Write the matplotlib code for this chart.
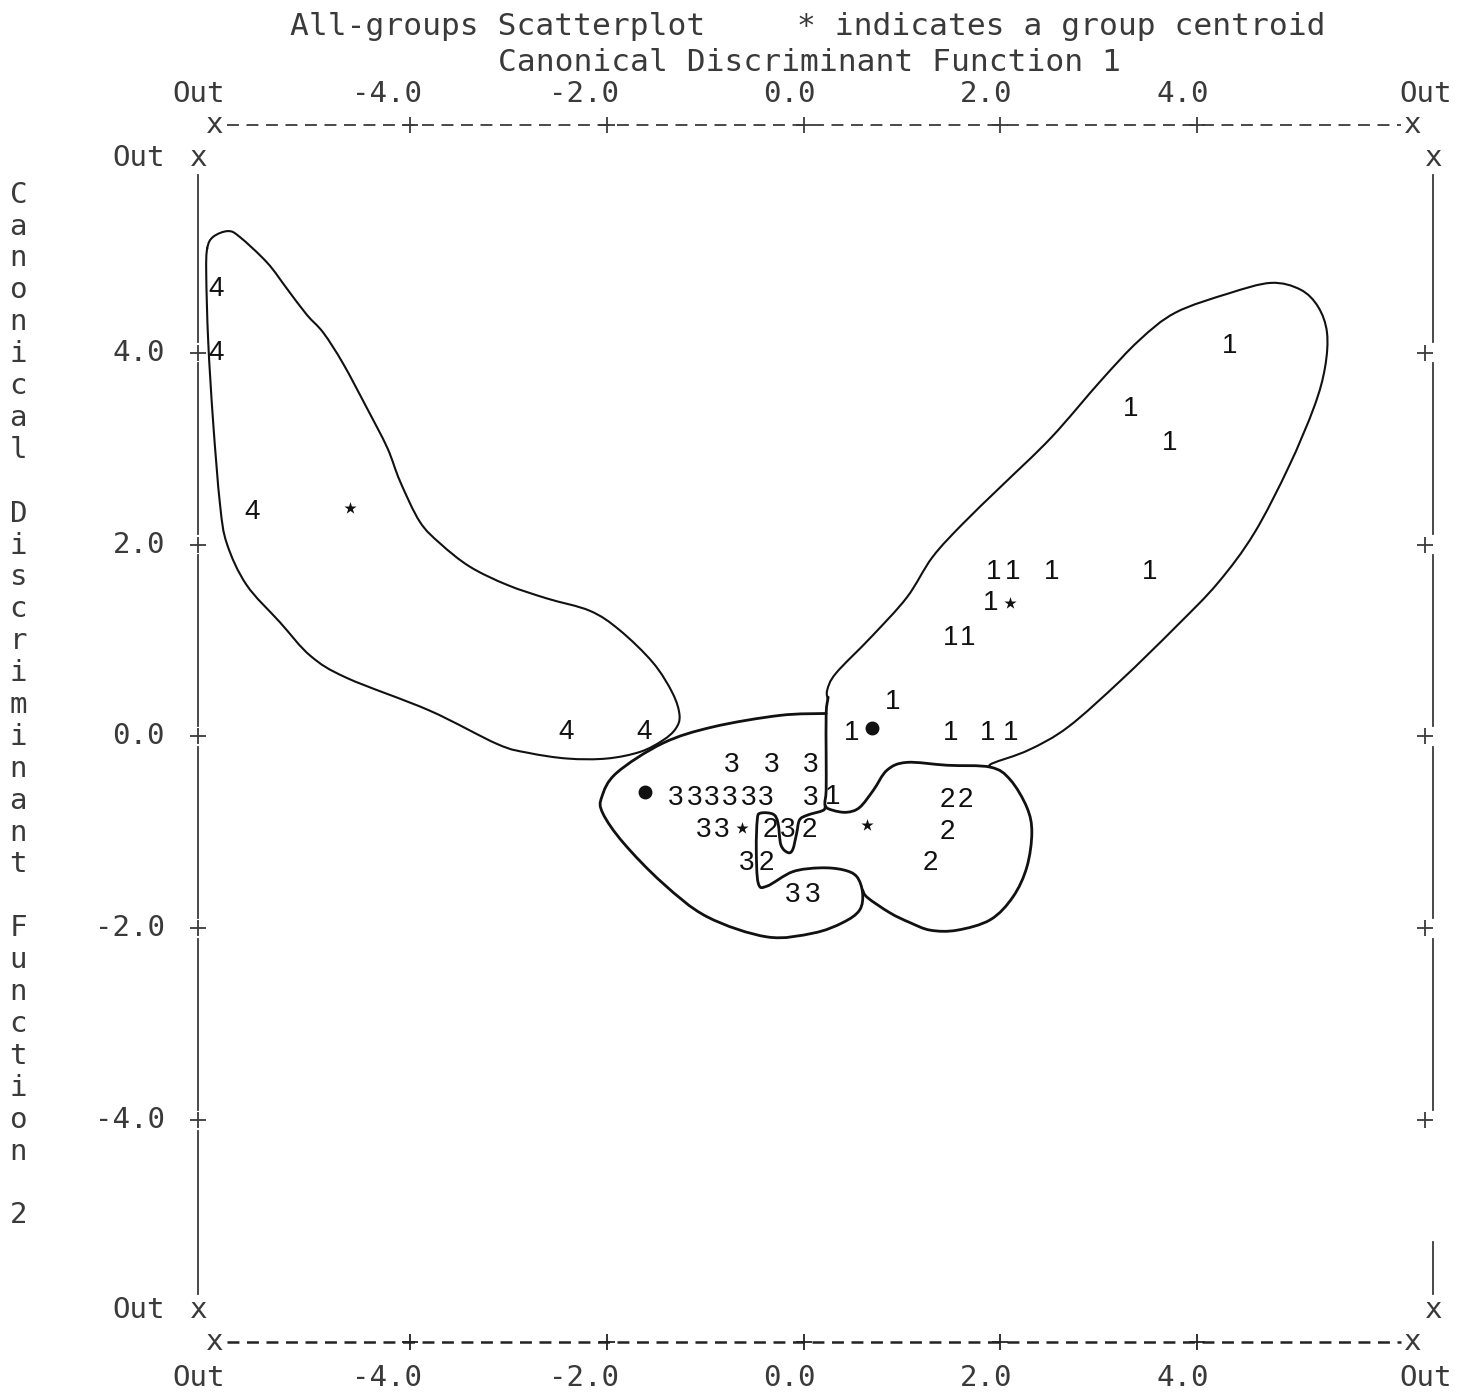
import matplotlib
matplotlib.use("Agg")
from matplotlib import pyplot as plt
from matplotlib.path import Path
from matplotlib.patches import PathPatch

# region data
# tick values shared by both canonical discriminant functions
ticks = [-4.0, -2.0, 0.0, 2.0, 4.0]
tick_labels = ["-4.0", "-2.0", "0.0", "2.0", "4.0"]

# cases, printed as their group number
g1_x = [4.33, 3.32, 3.72, 1.93, 2.12, 2.52, 3.52, 1.90, 1.49, 1.67, 0.91, 0.49, 1.49, 1.87, 2.10, 0.30]
g1_y = [4.07, 3.42, 3.06, 1.72, 1.72, 1.72, 1.72, 1.39, 1.03, 1.03, 0.36, 0.04, 0.04, 0.04, 0.04, -0.63]
g2_x = [-0.34, 0.06, -0.38, 1.46, 1.64, 1.46, 1.29]
g2_y = [-0.97, -0.97, -1.32, -0.66, -0.66, -1.00, -1.32]
g3_x = [-0.73, -0.32, 0.07, -1.30, -1.11, -0.93, -0.75, -0.56, -0.38, 0.07,
        -1.02, -0.83, -0.16, -0.58, -0.11, 0.09]
g3_y = [-0.30, -0.30, -0.30, -0.64, -0.64, -0.64, -0.64, -0.64, -0.64, -0.64,
        -0.97, -0.97, -0.97, -1.32, -1.65, -1.65]
g4_x = [-5.97, -5.97, -5.60, -2.41, -1.62]
g4_y = [4.67, 4.00, 2.34, 0.05, 0.05]

# group centroids (1, 2, 3, 4)
centroid_x = [2.10, 0.65, -0.63, -4.61]
centroid_y = [1.39, -0.92, -0.95, 2.38]

# hand-marked dots
dot_x = [-1.61, 0.70]
dot_y = [-0.58, 0.09]

# hand-drawn territory outlines
outline4_x = [-6.06, -6.00, -5.85, -5.73, -5.45, -5.25, -5.05, -4.88, -4.68, -4.44, -4.23, -4.10,
              -3.90, -3.69, -3.39, -3.01, -2.61, -2.17, -1.87, -1.53, -1.33, -1.26, -1.30, -1.43,
              -1.66, -2.00, -2.40, -2.80, -3.11, -3.80, -4.64, -5.01, -5.32, -5.66, -5.86, -5.93,
              -6.00, -6.05, -6.07, -6.06]
outline4_y = [5.09, 5.21, 5.27, 5.21, 4.94, 4.67, 4.40, 4.21, 3.89, 3.43, 3.01, 2.66,
              2.24, 2.01, 1.77, 1.58, 1.44, 1.31, 1.11, 0.77, 0.45, 0.22, 0.08, -0.04,
              -0.16, -0.23, -0.23, -0.17, -0.08, 0.27, 0.61, 0.84, 1.19, 1.58, 2.01, 2.42,
              3.28, 4.12, 4.82, 5.09]

outline1_x = [0.25, 0.24, 0.33, 0.69, 1.05, 1.31, 1.62, 2.02, 2.52, 3.03, 3.41, 3.78, 4.32, 4.75,
              5.05, 5.23, 5.32, 5.30, 5.19, 4.93, 4.58, 4.21, 3.78, 3.23, 2.69, 2.29, 1.92, 1.90]
outline1_y = [0.38, 0.48, 0.66, 1.04, 1.45, 1.87, 2.22, 2.62, 3.12, 3.72, 4.13, 4.42, 4.62, 4.73,
              4.66, 4.48, 4.21, 3.85, 3.44, 2.81, 2.12, 1.60, 1.14, 0.59, 0.10, -0.14, -0.28, -0.32]

outline2_x = [0.25, 0.23, 0.23, 0.23, 0.22, 0.30, 0.44, 0.57, 0.71, 0.85, 1.05, 1.46, 1.90, 2.10,
              2.27, 2.32, 2.27, 2.13, 1.90, 1.56, 1.29, 1.08, 0.88, 0.65, 0.60]
outline2_y = [0.41, 0.24, -0.21, -0.56, -0.72, -0.77, -0.79, -0.74, -0.56, -0.35, -0.27, -0.30,
              -0.32, -0.45, -0.74, -1.00, -1.36, -1.67, -1.91, -2.02, -2.02, -1.94, -1.84, -1.68,
              -1.60]

outline3_x = [0.23, -0.24, -0.92, -1.43, -1.90, -2.05, -2.04, -1.83, -1.43, -0.98, -0.37, 0.10,
              0.40, 0.57, 0.60, 0.54, 0.40, 0.17, -0.11, -0.37, -0.46, -0.48, -0.47, -0.44, -0.31,
              -0.26, -0.23, -0.16, -0.11, -0.07, -0.04, 0.04, 0.20, 0.22]
outline3_y = [0.24, 0.22, 0.10, -0.07, -0.38, -0.63, -0.80, -1.11, -1.53, -1.88, -2.09, -2.05,
              -1.94, -1.81, -1.63, -1.46, -1.39, -1.37, -1.41, -1.56, -1.53, -1.18, -0.87, -0.80,
              -0.81, -0.90, -1.13, -1.21, -1.18, -1.01, -0.87, -0.82, -0.77, -0.72]
# endregion


# region layout
X_LIM = (-8.166, 6.824)
Y_LIM = (-6.846, 7.680)
LEFT_X, RIGHT_X = -6.15, 6.40
RIGHT_PLUS_X = 6.32
OUT_TOP, OUT_BOTTOM = 6.03, -5.98
TOP_Y, BOTTOM_Y = 6.38, -6.31
H_LEFT, H_RIGHT = -5.98, 6.19

AX_FONT = "DejaVu Sans Mono"
NUM_FONT = "Liberation Sans"
AX_COLOR = "#3a3a3a"
INK = "#111111"
# endregion


def smooth_path(xs, ys):
    """Pen-like curve through the traced points (Catmull-Rom drawn as Bezier segments)."""
    pts = list(zip(xs, ys))
    closed = pts[0] == pts[-1]
    n = len(pts)
    verts = [pts[0]]
    codes = [Path.MOVETO]
    for i in range(n - 1):
        p1, p2 = pts[i], pts[i + 1]
        if i > 0:
            p0 = pts[i - 1]
        else:
            p0 = pts[-2] if closed else p1
        if i + 2 < n:
            p3 = pts[i + 2]
        else:
            p3 = pts[1] if closed else p2
        c1 = (p1[0] + (p2[0] - p0[0]) / 6.0, p1[1] + (p2[1] - p0[1]) / 6.0)
        c2 = (p2[0] - (p3[0] - p1[0]) / 6.0, p2[1] - (p3[1] - p1[1]) / 6.0)
        verts += [c1, c2, p2]
        codes += [Path.CURVE4] * 3
    return Path(verts, codes)


def draw_frame(ax):
    """Typewriter-style frame: dashed top/bottom rules, broken side rules, + ticks and x ends."""
    txt = dict(family=AX_FONT, color=AX_COLOR, fontsize=21)
    ttl = dict(family=AX_FONT, color=AX_COLOR, fontsize=22.5)

    # title lines
    ax.text(-3.11, 7.40, "All-groups Scatterplot", ha="center", va="center", **ttl)
    ax.text(2.62, 7.40, "* indicates a group centroid", ha="center", va="center", **ttl)
    ax.text(0.06, 7.03, "Canonical Discriminant Function 1", ha="center", va="center", **ttl)

    # top and bottom rules (the bottom one printed heavier)
    for yy, lab_y, lw, col in ((TOP_Y, 6.70, 1.3, AX_COLOR), (BOTTOM_Y, -6.69, 1.8, "#222222")):
        ax.plot([H_LEFT + 0.12, H_RIGHT - 0.12], [yy, yy], color=col, lw=lw,
                linestyle=(0, (6.6 * 1.3 / lw, 4.2 * 1.3 / lw)))
        ax.plot(ticks, [yy] * len(ticks), linestyle="none", marker="+", ms=11, mew=1.3,
                color=col)
        ax.text(H_LEFT, yy, "x", ha="center", va="center", **txt)
        ax.text(H_RIGHT, yy, "x", ha="center", va="center", **txt)
        for tv, tl in zip(ticks, tick_labels):
            ax.text(tv + 0.12, lab_y, tl, ha="right", va="center", **txt)
        ax.text(LEFT_X, lab_y, "Out", ha="center", va="center", **txt)
        ax.text(RIGHT_X - 0.08, lab_y, "Out", ha="center", va="center", **txt)

    # side rules, broken at each + tick
    stops = [OUT_TOP] + sorted(ticks, reverse=True) + [OUT_BOTTOM]
    for i in range(len(stops) - 1):
        top = stops[i] - (0.17 if i == 0 else 0.11)
        bot = stops[i + 1] + (0.17 if i == len(stops) - 2 else 0.11)
        ax.plot([LEFT_X, LEFT_X], [top, bot], color=AX_COLOR, lw=1.3)
        if i == len(stops) - 2:
            top = -5.27
        ax.plot([RIGHT_X, RIGHT_X], [top, bot], color=AX_COLOR, lw=1.3)
    ax.plot([LEFT_X] * len(ticks), ticks, linestyle="none", marker="+", ms=11, mew=1.3,
            color=AX_COLOR)
    ax.plot([RIGHT_PLUS_X] * len(ticks), ticks, linestyle="none", marker="+", ms=11, mew=1.3,
            color=AX_COLOR)

    for yy in (OUT_TOP, OUT_BOTTOM):
        ax.text(LEFT_X, yy, "x", ha="center", va="center", **txt)
        ax.text(RIGHT_X, yy, "x", ha="center", va="center", **txt)
        ax.text(-6.49, yy, "Out", ha="right", va="center", **txt)
    for tv, tl in zip(ticks, tick_labels):
        ax.text(-6.49, tv, tl, ha="right", va="center", **txt)

    # vertical axis title, one character per line
    label = "Canonical Discriminant Function 2"
    for i, ch in enumerate(label):
        ax.text(-7.98, 5.65 - 0.3326 * i, ch, ha="center", va="center", **txt)


def draw_cases(ax):
    """Group numbers, centroids, dots and the hand-drawn outlines."""
    for xs, ys, g in ((g1_x, g1_y, "1"), (g2_x, g2_y, "2"), (g3_x, g3_y, "3"), (g4_x, g4_y, "4")):
        for x, y in zip(xs, ys):
            ax.text(x, y, g, ha="center", va="center", family=NUM_FONT, fontsize=20, color=INK)

    ax.scatter(centroid_x, centroid_y, marker="*", s=85, color=INK, linewidths=0)
    ax.plot(dot_x, dot_y, linestyle="none", marker="o", ms=9, color=INK)

    for xs, ys, lw in ((outline4_x, outline4_y, 1.5), (outline1_x, outline1_y, 1.5),
                       (outline2_x, outline2_y, 2.0), (outline3_x, outline3_y, 2.0)):
        ax.add_patch(PathPatch(smooth_path(xs, ys), fill=False, edgecolor=INK, lw=lw,
                               joinstyle="round", capstyle="round"))


def main():
    fig = plt.figure(figsize=(14.75, 13.93), dpi=100)
    ax = fig.add_axes([0, 0, 1, 1])
    ax.set_xlim(*X_LIM)
    ax.set_ylim(*Y_LIM)
    ax.axis("off")

    draw_frame(ax)
    draw_cases(ax)

    fig.savefig("out.png", dpi=100, facecolor="white")


if __name__ == "__main__":
    main()
